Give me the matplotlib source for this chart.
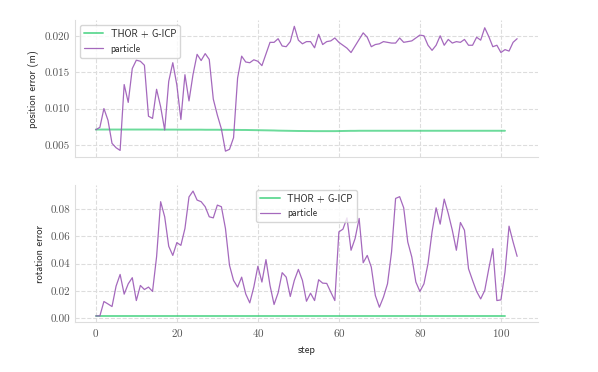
import matplotlib
matplotlib.use("Agg")
import matplotlib.pyplot as plt
import seaborn as sns

# ── Data ──────────────────────────────────────────────────────────────────────
particle_pos = [
    0.00710, 0.00742, 0.01000, 0.00840, 0.00522, 0.00462, 0.00425, 0.01330,
    0.01085, 0.01550, 0.01665, 0.01650, 0.01595, 0.00895, 0.00865, 0.01265,
    0.01025, 0.00705, 0.01375, 0.01630, 0.01325, 0.00850, 0.01465, 0.01105,
    0.01470, 0.01745, 0.01660, 0.01755, 0.01675, 0.01130, 0.00910, 0.00720,
    0.00415, 0.00440, 0.00600, 0.01420, 0.01720, 0.01640, 0.01630, 0.01670,
    0.01650, 0.01590, 0.01750, 0.01910, 0.01910, 0.01960, 0.01860, 0.01850,
    0.01920, 0.02130, 0.01940, 0.01890, 0.01920, 0.01920, 0.01835, 0.02020,
    0.01880, 0.01920, 0.01930, 0.01970, 0.01910, 0.01870, 0.01830, 0.01770,
    0.01860, 0.01950, 0.02040, 0.01980, 0.01850, 0.01880, 0.01890, 0.01920,
    0.01910, 0.01900, 0.01900, 0.01970, 0.01910, 0.01920, 0.01930, 0.01970,
    0.02010, 0.02000, 0.01870, 0.01800, 0.01870, 0.02000, 0.01870, 0.01950,
    0.01900, 0.01920, 0.01910, 0.01950, 0.01870, 0.01870, 0.01980, 0.01940,
    0.02110, 0.01990, 0.01850, 0.01870, 0.01770, 0.01810, 0.01790, 0.01910,
    0.01960,
]

thor_pos = [
    0.00712, 0.00712, 0.00712, 0.00712, 0.00712, 0.00712, 0.00712, 0.00712,
    0.00712, 0.00712, 0.00712, 0.00712, 0.00712, 0.00712, 0.00712, 0.00712,
    0.00711, 0.00711, 0.00711, 0.00711, 0.00711, 0.00710, 0.00710, 0.00710,
    0.00710, 0.00710, 0.00710, 0.00709, 0.00709, 0.00709, 0.00709, 0.00708,
    0.00708, 0.00708, 0.00707, 0.00707, 0.00706, 0.00706, 0.00705, 0.00704,
    0.00703, 0.00702, 0.00701, 0.00700, 0.00699, 0.00697, 0.00696, 0.00695,
    0.00694, 0.00693, 0.00692, 0.00692, 0.00691, 0.00691, 0.00690, 0.00690,
    0.00690, 0.00690, 0.00690, 0.00690, 0.00691, 0.00692, 0.00693, 0.00694,
    0.00694, 0.00695, 0.00695, 0.00695, 0.00695, 0.00695, 0.00695, 0.00695,
    0.00695, 0.00695, 0.00695, 0.00695, 0.00695, 0.00695, 0.00695, 0.00695,
    0.00695, 0.00695, 0.00695, 0.00695, 0.00695, 0.00695, 0.00695, 0.00695,
    0.00695, 0.00695, 0.00695, 0.00695, 0.00695, 0.00695, 0.00695, 0.00695,
    0.00695, 0.00695, 0.00695, 0.00695, 0.00695, 0.00695,
]

particle_rot = [
    0.0015, 0.0015, 0.0121, 0.0103, 0.0084, 0.0234, 0.0320, 0.0175,
    0.0251, 0.0296, 0.0128, 0.0239, 0.0209, 0.0227, 0.0195, 0.0450,
    0.0855, 0.0744, 0.0527, 0.0460, 0.0554, 0.0534, 0.0658, 0.0890,
    0.0933, 0.0867, 0.0855, 0.0818, 0.0744, 0.0736, 0.0830, 0.0818,
    0.0658, 0.0387, 0.0276, 0.0227, 0.0300, 0.0177, 0.0111, 0.0227,
    0.0380, 0.0264, 0.0429, 0.0239, 0.0099, 0.0185, 0.0333, 0.0300,
    0.0158, 0.0276, 0.0357, 0.0276, 0.0123, 0.0182, 0.0128, 0.0281,
    0.0256, 0.0254, 0.0190, 0.0128, 0.0633, 0.0653, 0.0736, 0.0498,
    0.0584, 0.0732, 0.0406, 0.0460, 0.0374, 0.0165, 0.0079, 0.0153,
    0.0251, 0.0485, 0.0879, 0.0892, 0.0810, 0.0559, 0.0448, 0.0264,
    0.0195, 0.0251, 0.0400, 0.0633, 0.0810, 0.0690, 0.0874, 0.0768,
    0.0645, 0.0498, 0.0702, 0.0645, 0.0362, 0.0276, 0.0195, 0.0140,
    0.0202, 0.0362, 0.0510, 0.0128, 0.0133, 0.0337, 0.0675, 0.0559,
    0.0453,
]

thor_rot = [0.0015] * 102

steps_particle = list(range(len(particle_pos)))
steps_thor = list(range(len(thor_pos)))

GREEN = "#2ecc71"
PURPLE = "#9b59b6"

# ── Style ─────────────────────────────────────────────────────────────────────
sns.set_style("whitegrid", {"grid.linestyle": "--", "axes.edgecolor": "#dddddd"})
plt.rcParams.update({
    "font.family": ["cmss10", "DejaVu Sans"],
    "axes.formatter.use_mathtext": True,
    "grid.color": "#dddddd",
    "grid.linewidth": 0.8,
})

fig, (ax1, ax2) = plt.subplots(2, 1, figsize=(5.98, 3.72), dpi=100, sharex=True)
fig.subplots_adjust(left=0.125, right=0.9, top=0.946, bottom=0.134, hspace=0.2)

ax1.plot(steps_thor, thor_pos, color=GREEN, lw=1.4, alpha=0.7, label="THOR + G-ICP")
ax1.plot(steps_particle, particle_pos, color=PURPLE, lw=0.9, alpha=0.9, label="particle")
ax1.set_ylabel("position error (m)", fontsize=7.5)
ax1.set_yticks([0.005, 0.010, 0.015, 0.020])
ax1.legend(loc="upper left", fontsize=7, frameon=True)

ax2.plot(steps_thor, thor_rot, color=GREEN, lw=1.4, alpha=0.7, label="THOR + G-ICP")
ax2.plot(steps_particle, particle_rot, color=PURPLE, lw=0.9, alpha=0.9, label="particle")
ax2.set_ylabel("rotation error", fontsize=7.5)
ax2.set_xlabel("step", fontsize=7.5)
ax2.set_yticks([0.00, 0.02, 0.04, 0.06, 0.08])
ax2.set_xticks([0, 20, 40, 60, 80, 100])
ax2.legend(loc="upper center", fontsize=7, frameon=True)

for ax in (ax1, ax2):
    sns.despine(ax=ax)
    ax.tick_params(length=0, labelsize=8, colors="#555555")
    ax.spines["left"].set_color("#dddddd")
    ax.spines["bottom"].set_color("#dddddd")

ax1.yaxis.set_major_formatter(plt.FormatStrFormatter("%.3f"))
ax2.yaxis.set_major_formatter(plt.FormatStrFormatter("%.2f"))
for ax in (ax1, ax2):
    for lbl in ax.get_xticklabels() + ax.get_yticklabels():
        lbl.set_fontfamily("cmr10")

fig.savefig("out.png", dpi=100)
